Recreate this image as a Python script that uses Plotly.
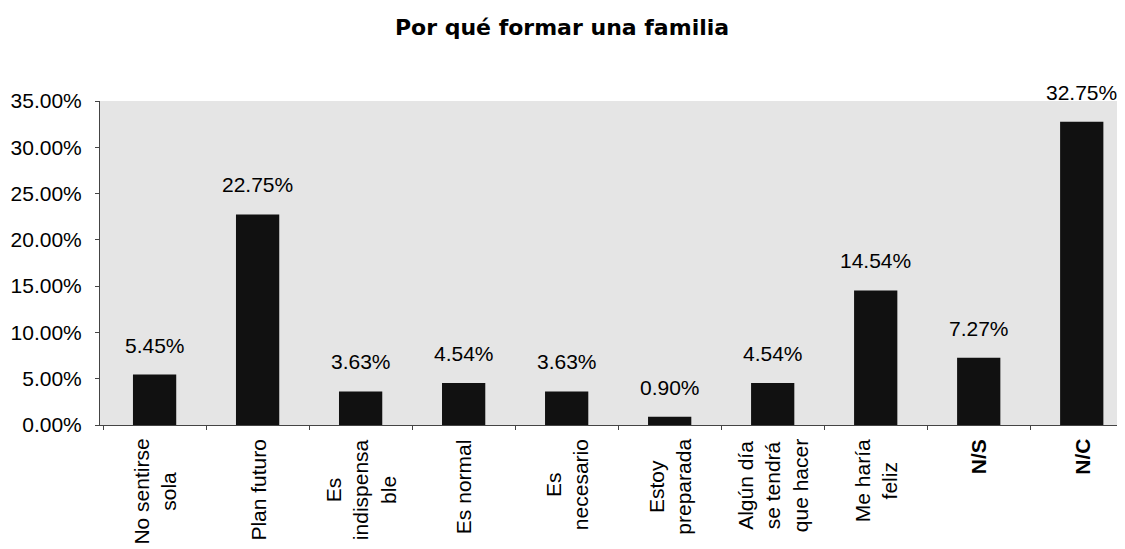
import plotly.graph_objects as go

categories = ["No sentirse<br>sola", "Plan futuro", "Es<br>indispensa<br>ble", "Es normal",
              "Es<br>necesario", "Estoy<br>preparada", "Algún día<br>se tendrá<br>que hacer",
              "Me haría<br>feliz", "<b>N/S</b>", "<b>N/C</b>"]
values = [0.0545, 0.2275, 0.0363, 0.0454, 0.0363, 0.0090, 0.0454, 0.1454, 0.0727, 0.3275]
value_labels = ["5.45%", "22.75%", "3.63%", "4.54%", "3.63%", "0.90%", "4.54%", "14.54%", "7.27%", "32.75%"]
ytick_vals = [0, 0.05, 0.10, 0.15, 0.20, 0.25, 0.30, 0.35]

FONT = "Liberation Sans, Arial"

fig = go.Figure(go.Bar(x=categories, y=values, marker=dict(color="#111111", line=dict(width=0)),
                       width=0.42))

# value labels above bars
for c, v, t in zip(categories, values, value_labels):
    fig.add_annotation(x=c, y=v, text=t, showarrow=False, yanchor="bottom", yshift=16,
                       font=dict(family=FONT, size=21, color="#000"))

# rotated category labels (lines centred within each block)
for c in categories:
    fig.add_annotation(x=c, xref="x", y=0, yref="paper", text=c, showarrow=False,
                       textangle=-90, align="center", xanchor="center", yanchor="top",
                       yshift=-12, font=dict(family=FONT, size=21, color="#000"))

fig.update_layout(
    width=1117, height=541,
    paper_bgcolor="white", plot_bgcolor="#e5e5e5",
    margin=dict(l=92, r=0, t=93, b=124),
    title=dict(text="<b>Por qué formar una familia</b>", xref="container", x=0.496, xanchor="center",
               yref="container", y=0.965, yanchor="middle",
               font=dict(family="DejaVu Sans", size=22, color="#000")),
    showlegend=False,
    font=dict(family=FONT, size=21, color="#000"),
)
fig.update_yaxes(range=[0, 0.35], tickvals=ytick_vals, tickformat=".2%", showgrid=False,
                 showline=True, linecolor="#444", linewidth=1, ticks="outside", ticklen=4,
                 tickcolor="#444", zeroline=False, tickfont=dict(size=21), automargin=False,
                 ticklabelstandoff=9)
fig.update_xaxes(showticklabels=False, showline=True, linecolor="#444", linewidth=1, ticks="outside",
                 tickson="boundaries", ticklen=4, tickcolor="#444", showgrid=False,
                 automargin=False, range=[-0.53, 9.42])

fig.write_html("out.html")
